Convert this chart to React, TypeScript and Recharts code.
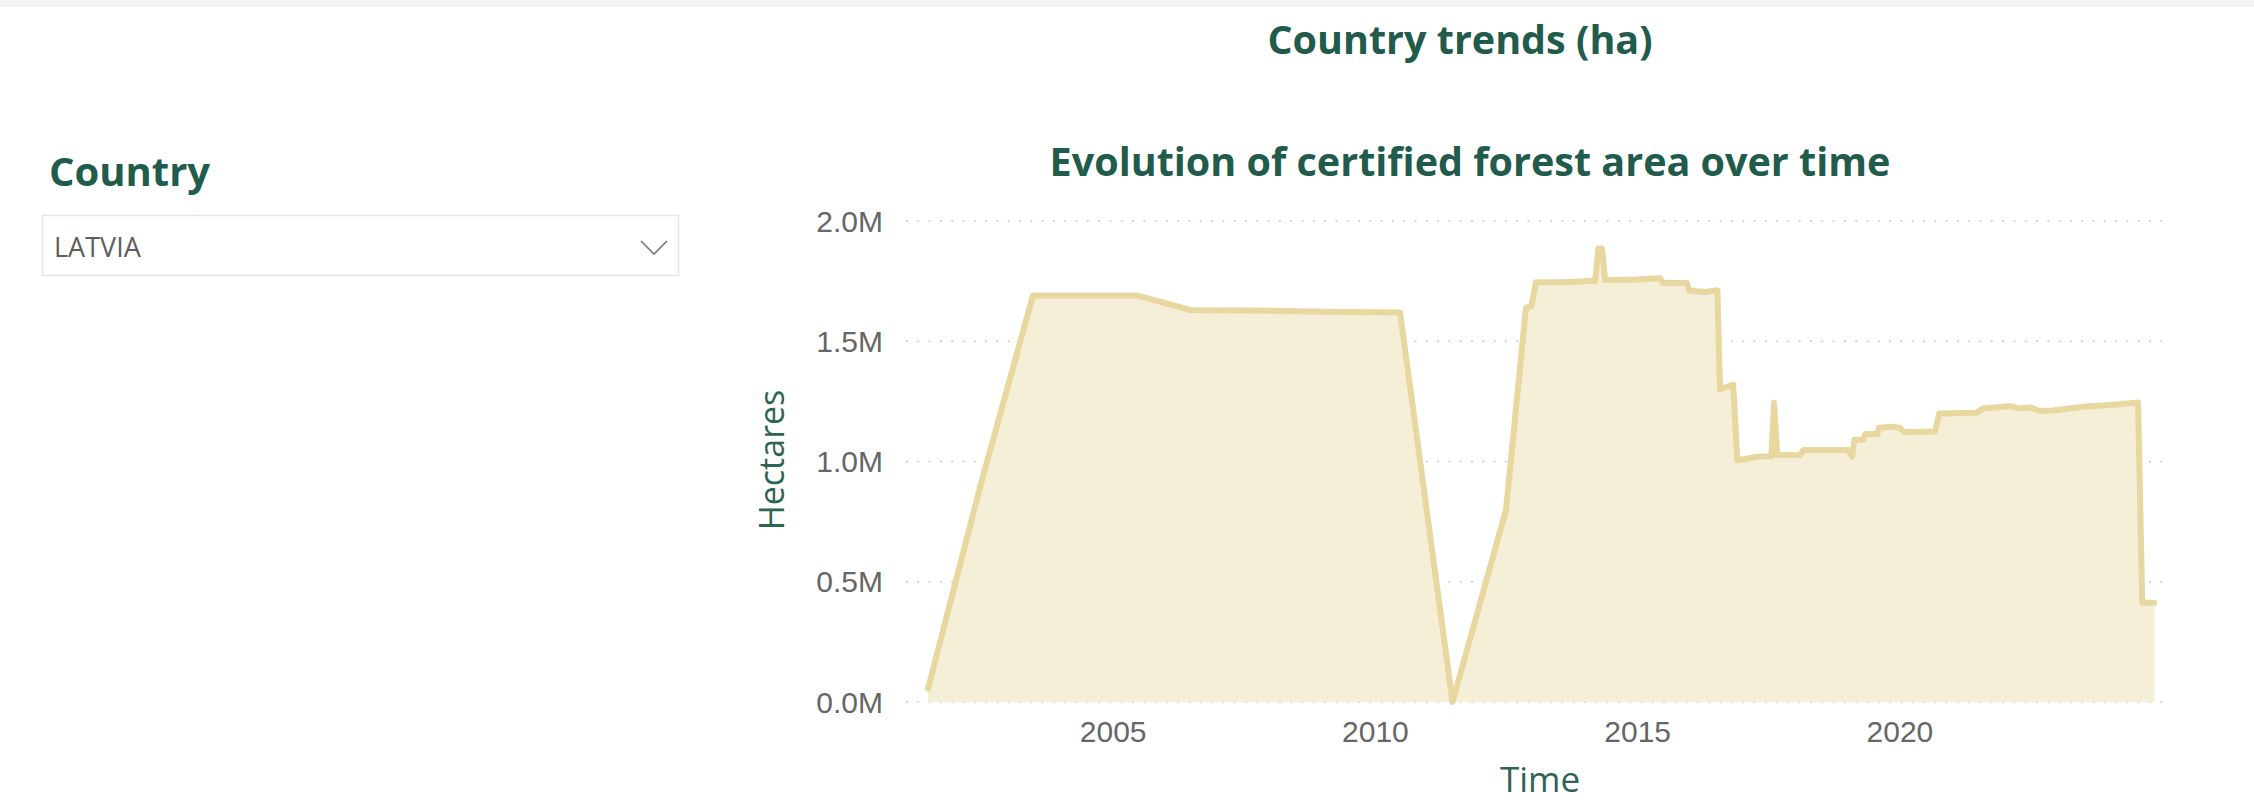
import { Area, AreaChart, CartesianGrid, XAxis, YAxis } from 'recharts';

// time as fractional year
const times = [
  2001.47, 2002.47, 2003.47, 2004.47, 2005.47, 2006.47, 2007.47, 2008.47, 2009.47, 2010.47,
  2011.47, 2012.49, 2012.87, 2012.97, 2013.06, 2013.52, 2013.94, 2014.04, 2014.19, 2014.25,
  2014.32, 2014.38, 2014.99, 2015.24, 2015.43, 2015.49, 2015.94, 2015.98, 2016.29, 2016.52,
  2016.57, 2016.82, 2016.9, 2016.95, 2017.28, 2017.55, 2017.6, 2017.66, 2018.1, 2018.16,
  2019.01, 2019.09, 2019.13, 2019.3, 2019.34, 2019.57, 2019.6, 2019.85, 2020.0, 2020.08,
  2020.67, 2020.75, 2021.47, 2021.57, 2022.1, 2022.29, 2022.48, 2022.67, 2022.92, 2023.49,
  2024.01, 2024.45, 2024.54, 2024.62, 2024.85,
];

// certified area, thousand ha
const hectaresK = [
  55, 900, 1690, 1690, 1690, 1630, 1628, 1625, 1622, 1620,
  0, 800, 1640, 1645, 1745, 1745, 1748, 1752, 1750, 1886,
  1886, 1755, 1757, 1760, 1762, 1742, 1742, 1710, 1705, 1712,
  1300, 1320, 1006, 1006, 1020, 1022, 1244, 1027, 1027, 1048,
  1048, 1020, 1090, 1090, 1114, 1114, 1140, 1145, 1140, 1123,
  1125, 1200, 1203, 1220, 1230, 1220, 1225, 1210, 1212, 1228,
  1235, 1243, 1245, 413, 413,
];

const yearTicks = [2005, 2010, 2015, 2020];
const hectareTicks = [0, 500000, 1000000, 1500000, 2000000];
const country = 'LATVIA';

const chartData = times.map((t, i) => ({ t, ha: hectaresK[i] * 1000 }));

const fmtM = (v: number) => `${(v / 1e6).toFixed(1)}M`;

const green = '#215B4B';
const axisGreen = '#2D6454';
const tickStyle = { fill: '#666666', fontSize: 30, fontFamily: '"Liberation Sans", Arial, sans-serif' };

export default function App() {
  return (
    <div
      style={{
        position: 'absolute',
        left: 0,
        top: 0,
        width: 2254,
        height: 810,
        background: '#fff',
        overflow: 'hidden',
      }}
    >
      <div style={{ position: 'absolute', left: 0, top: 0, width: 2254, height: 7, background: '#F3F3F3' }} />
      <svg width={2254} height={810} style={{ position: 'absolute', left: 0, top: 0 }}>
        <g fontFamily='"Open Sans", sans-serif'>
          <text x={1460} y={54} textAnchor="middle" fontSize={39.5} fontWeight={700} fill={green}>
            Country trends (ha)
          </text>
          <text x={49} y={186} fontSize={40} fontWeight={700} fill={green}>
            Country
          </text>
          <rect x={42.5} y={215.5} width={636} height={60} fill="#fff" stroke="#E6E6E6" strokeWidth={1.5} />
          <text x={54} y={257} fontSize={27} fill="#605E5C">
            {country}
          </text>
          <polyline points="641,241 654,254 667,241" fill="none" stroke="#777" strokeWidth={1.6} />
          <text x={1470} y={176} textAnchor="middle" fontSize={39.5} fontWeight={700} fill={green}>
            Evolution of certified forest area over time
          </text>
          <text transform="translate(784,460) rotate(-90)" textAnchor="middle" fontSize={34} fill={axisGreen}>
            Hectares
          </text>
          <text x={1540} y={792} textAnchor="middle" fontSize={35} fill={axisGreen}>
            Time
          </text>
        </g>
      </svg>
      <div style={{ position: 'absolute', left: 0, top: 0 }}>
        <AreaChart width={2254} height={810} data={chartData} margin={{ top: 221, right: 85, bottom: 0, left: 0 }}>
          <CartesianGrid vertical={false} stroke="#C8C8C8" strokeWidth={1.5} strokeDasharray="2 9.3" />
          <XAxis
            dataKey="t"
            type="number"
            domain={[2001.05, 2025.13]}
            ticks={yearTicks}
            allowDataOverflow
            height={108}
            axisLine={false}
            tickLine={false}
            tickSize={0}
            tickMargin={19}
            tick={tickStyle}
          />
          <YAxis
            domain={[0, 2000000]}
            ticks={hectareTicks}
            tickFormatter={fmtM}
            width={906}
            axisLine={false}
            tickLine={false}
            tickSize={0}
            tickMargin={23}
            tick={tickStyle}
          />
          <Area
            type="linear"
            dataKey="ha"
            stroke="#E9D7A0"
            strokeWidth={6}
            strokeLinejoin="round"
            strokeLinecap="round"
            fill="#F5EFD8"
            fillOpacity={1}
            isAnimationActive={false}
          />
        </AreaChart>
      </div>
    </div>
  );
}
